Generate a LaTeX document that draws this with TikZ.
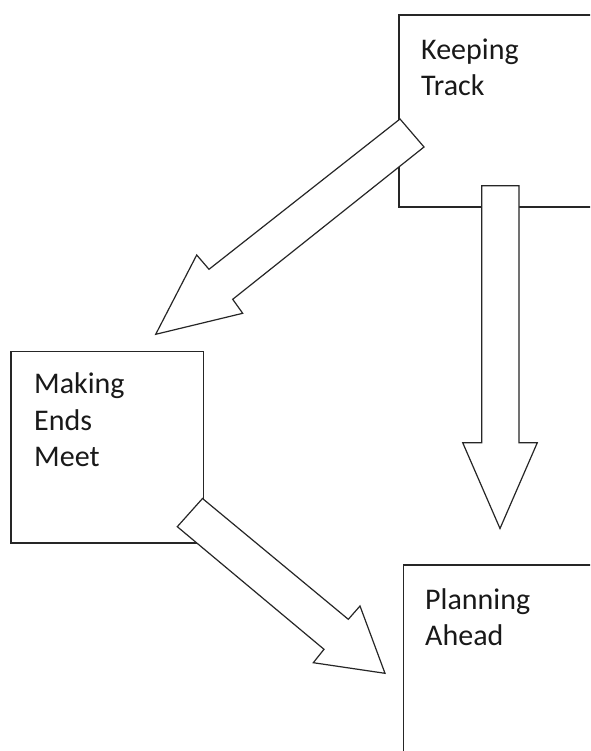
\documentclass[tikz,border=0pt]{standalone}
\usepackage{fontspec}
\setmainfont{Carlito}
\tikzset{
  boxshape/.style={draw=black!85, line width=1.3pt, fill=white},
  blockarrow/.style={draw=black!85, line width=1.2pt, fill=white, line join=miter},
  boxtext/.style={anchor=north west, inner sep=0pt, align=left, text=black!90,
    font=\fontsize{30}{36.5}\selectfont}
}
\begin{document}
\begin{tikzpicture}[x=1pt, y=-1pt]
\useasboundingbox (0,0) rectangle (590,751);
\clip (0,0) rectangle (590,751);
\fill[white] (0,0) rectangle (590,751);
% boxes
\draw[boxshape] (399,15) rectangle (620,207);
\node[boxtext] (ktxt) at (421,38.5) {Keeping\\Track};
\draw[boxshape] (11,351.5) rectangle (203.5,543);
\node[boxtext] (mtxt) at (34,372.5) {Making\\Ends\\Meet};
\draw[boxshape] (403.5,565) rectangle (620,780);
\node[boxtext] (ptxt) at (425,588) {Planning\\Ahead};
% arrows
\coordinate (a1t1) at (400,119);
\coordinate (a1t2) at (424,147);
\coordinate (a1tip) at (155.7,334.3);
\draw[blockarrow] (a1t1) -- (a1t2) -- (232.7,299.3) -- (242.7,313.3) -- (a1tip) -- (196.7,255) -- (209,269.3) -- cycle;
\coordinate (a2t1) at (481.7,185.7);
\coordinate (a2t2) at (519,185.7);
\coordinate (a2tip) at (500,528.5);
\draw[blockarrow] (a2t1) -- (a2t2) -- (519,442.7) -- (537.3,442.7) -- (a2tip) -- (462.7,442.7) -- (481.7,442.7) -- cycle;
\coordinate (a3t1) at (202.5,498.5);
\coordinate (a3t2) at (177.3,526.7);
\coordinate (a3tip) at (385,673.3);
\draw[blockarrow] (a3t1) -- (348.3,619.3) -- (360,606) -- (a3tip) -- (313.3,662.7) -- (324,649.3) -- (a3t2) -- cycle;
\end{tikzpicture}
\end{document}
